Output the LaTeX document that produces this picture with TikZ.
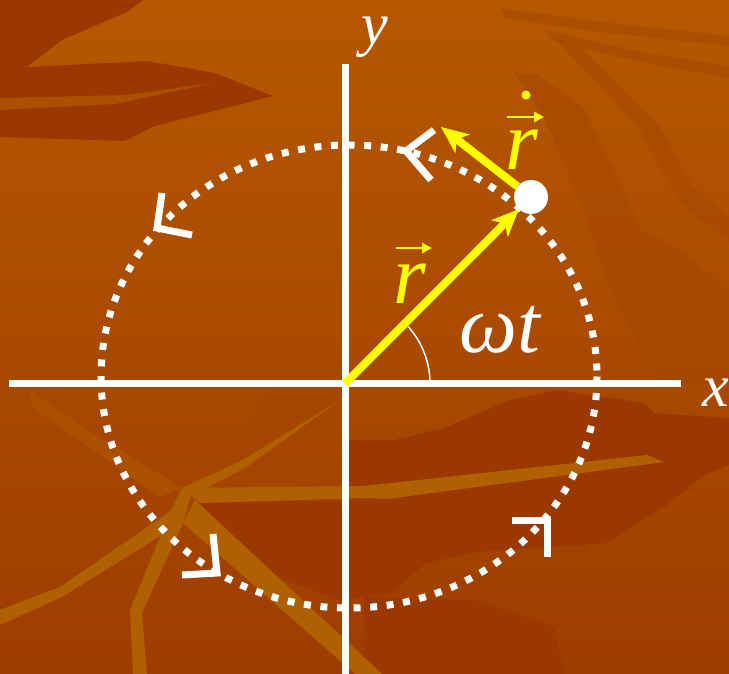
\documentclass[tikz,border=0pt]{standalone}
\usepackage{fontspec}
\setmainfont{Liberation Serif}
\usetikzlibrary{arrows.meta}
\definecolor{bgtop}{HTML}{B55800}
\definecolor{bgbot}{HTML}{9E3D00}
\definecolor{bgdark}{HTML}{9B3800}
\definecolor{bgmid}{HTML}{A64700}
\definecolor{bglight}{HTML}{B06000}
\definecolor{bgsoft}{HTML}{AC5000}
\definecolor{vecyellow}{HTML}{FFFF00}
\tikzset{
  axisline/.style={white, line width=7pt, line cap=butt},
  orbit/.style={white, line width=7pt, line cap=butt, dash pattern=on 7pt off 9.6pt},
  chev/.style={white, line width=7pt, line cap=butt, line join=miter},
  vec/.style={vecyellow, line width=8pt, line cap=butt, -{Stealth[length=27pt,width=23pt,inset=7pt]}},
  smallvec/.style={vecyellow, line width=2.5pt, -{Triangle[length=10pt,width=10pt]}},
  lab/.style={inner sep=0pt, anchor=base},
  streak/.style={fill=bgmid, fill opacity=0.55},
}
\begin{document}
\begin{tikzpicture}[x=1pt,y=-1pt]
\useasboundingbox (0,0) rectangle (729,674);
% background
\shade[top color=bgtop, bottom color=bgbot] (0,0) rectangle (729,674);
\fill[bgdark] (0,0) -- (143,0) -- (127,12) -- (62,40) -- (27,67) -- (147,61) -- (215,73) -- (273,96) -- (155,126) -- (125,141) -- (0,137) -- cycle;
\fill[bgsoft] (0,98) -- (127,95) -- (213,83) -- (115,104) -- (0,110) -- cycle;
% top right streaks
\fill[streak] (513,72) -- (538,75) -- (583,107) -- (642,230) -- (670,243) -- (729,290) -- (729,383) -- (660,383) -- (615,300) -- (575,190) -- (545,120) -- cycle;
\fill[streak] (500,8) -- (600,22) -- (729,36) -- (729,46) -- (600,32) -- (505,18) -- cycle;
\fill[streak] (545,30) -- (640,52) -- (729,66) -- (729,78) -- (640,62) -- (552,40) -- cycle;
\fill[streak] (553,37) -- (580,47) -- (657,123) -- (693,187) -- (729,217) -- (729,242) -- (680,202) -- (637,125) -- cycle;
% lower regions
\fill[streak] (180,480) -- (243,440) -- (270,390) -- (345,390) -- (345,490) -- cycle;
\fill[bgdark] (200,503) -- (345,500) -- (345,440) -- (364,440) -- (394,440) -- (444,428) -- (511,400) -- (557,390) -- (644,403) -- (654,413) -- (729,418) -- (729,465) -- (704,475) -- (664,507) -- (607,543) -- (477,552) -- (426,563) -- (391,593) -- (340,600) -- (230,560) -- cycle;
\fill[bgdark] (364,597) -- (474,600) -- (554,627) -- (564,674) -- (364,674) -- cycle;
% light streaks
\fill[bgsoft] (27,388) -- (83,427) -- (182,488) -- (160,497) -- (32,407) -- cycle;
\fill[bglight] (182,488) -- (364,486) -- (647,455) -- (664,462) -- (387,499) -- (364,498) -- (200,503) -- cycle;
\fill[bglight] (182,488) -- (192,492) -- (183,523) -- (142,613) -- (147,674) -- (133,674) -- (130,610) -- (170,513) -- cycle;
\fill[bglight] (195,500) -- (382,674) -- (355,674) -- (183,523) -- cycle;
\fill[bglight] (172,510) -- (178,525) -- (62,597) -- (0,625) -- (0,610) -- (60,587) -- cycle;
\fill[bglight] (182,488) -- (243,460) -- (340,400) -- (245,468) -- (190,496) -- cycle;
% orbit
\draw[orbit] (349,376.5) ellipse [x radius=248, y radius=231.5];
% axes
\coordinate (O) at (345,383.5);
\coordinate (XL) at (9,383.5);
\coordinate (XR) at (681,383.5);
\coordinate (YT) at (345,64);
\coordinate (YB) at (345,674);
\draw[axisline] (XL) -- (XR);
\draw[axisline] (YT) -- (YB);
% direction chevrons
\draw[chev] (434,130) -- (406,151) -- (431,180);
\draw[chev] (162,193) -- (157,228) -- (192,235);
\draw[chev] (213,534) -- (217,573) -- (182,575);
\draw[chev] (512,520.5) -- (547.5,520.5) -- (547.5,557);
% angle arc
\draw[white, line width=1.5pt] (430,383.5) arc[start angle=0, end angle=-42, radius=85];
% particle and vectors
\node[circle, fill=white, minimum size=34pt, inner sep=0pt] (P) at (531,197) {};
\coordinate (V) at (441,127);
\draw[vec] (O) -- (P);
\draw[vec] (P) -- (V);
% labels
\node[lab, white, font=\fontsize{60}{60}\selectfont\itshape] (ylab) at (375,45) {y};
\node[lab, white, font=\fontsize{60}{60}\selectfont\itshape] (xlab) at (716,406) {x};
\node[lab, white, font=\fontsize{82}{82}\selectfont\itshape] (wt) at (500,352) {ωt};
\node[lab, vecyellow, font=\fontsize{84}{84}\selectfont\itshape] (rlab) at (410,303) {r};
\coordinate (ra) at (396,248);
\coordinate (rb) at (432,248);
\draw[smallvec] (ra) -- (rb);
\node[lab, vecyellow, font=\fontsize{84}{84}\selectfont\itshape] (rdlab) at (522,170) {r};
\coordinate (rda) at (507,117);
\coordinate (rdb) at (544,117);
\draw[smallvec] (rda) -- (rdb);
\node[circle, fill=vecyellow, minimum size=9pt, inner sep=0pt] (rdot) at (526,95) {};
\end{tikzpicture}
\end{document}
